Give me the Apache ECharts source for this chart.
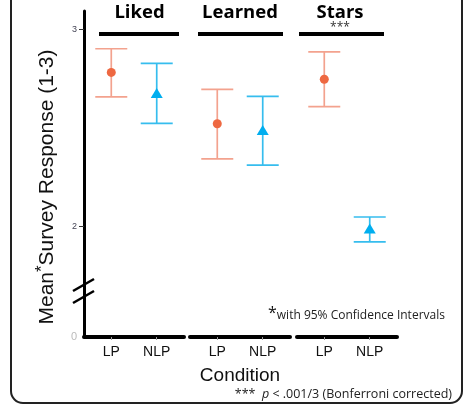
<!DOCTYPE html>
<html><head><meta charset="utf-8">
<script src="https://cdn.jsdelivr.net/npm/echarts@6/dist/echarts.min.js"></script>
<style>html,body{margin:0;padding:0;background:#fff}#c{width:467px;height:406px}</style>
</head><body><div id="c"></div>
<script>
// ---- data ----
const facets = ['Liked', 'Learned', 'Stars'];
const conditions = ['LP', 'NLP'];
const meanLP  = [2.781, 2.520, 2.746];
const lowLP   = [2.657, 2.341, 2.607];
const highLP  = [2.901, 2.695, 2.885];
const meanNLP = [2.676, 2.488, 1.988];
const lowNLP  = [2.522, 2.310, 1.920];
const highNLP = [2.827, 2.659, 2.046];
const yTicks = [2, 3];
const yBreakLabel = '0';
const significance = ['', '', '***'];
const yMin = 1.436, yMax = 3.093;

// ---- layout / style ----
const gridLefts = [84, 190, 297];
const headerLines = [[99, 179], [198, 283], [299, 384]];
const headerCenters = [139.5, 240, 340];
const LP_MARK = '#EE6841', LP_BAR = '#F3A28E';
const NLP_MARK = '#00AEEF', NLP_BAR = '#36BDEE';
const FONT = 'Liberation Sans, Arial, sans-serif';

function errorBar(color) {
  return function (params, api) {
    const x = api.value(0);
    const lo = api.coord([x, api.value(1)]);
    const hi = api.coord([x, api.value(2)]);
    const hw = 16;
    const st = { stroke: color, lineWidth: 1.7 };
    return { type: 'group', children: [
      { type: 'line', shape: { x1: lo[0], y1: lo[1], x2: hi[0], y2: hi[1] }, style: st },
      { type: 'line', shape: { x1: lo[0] - hw, y1: lo[1], x2: lo[0] + hw, y2: lo[1] }, style: st },
      { type: 'line', shape: { x1: hi[0] - hw, y1: hi[1], x2: hi[0] + hw, y2: hi[1] }, style: st }
    ]};
  };
}

const grids = [], xAxes = [], yAxes = [], series = [];
facets.forEach((f, i) => {
  grids.push({ left: gridLefts[i], width: 100, top: 11, height: 326 });
  xAxes.push({
    type: 'value', gridIndex: i, min: -0.6, max: 1.6,
    splitLine: { show: false },
    axisLine: { show: true, onZero: false, lineStyle: { color: '#000', width: 4, cap: 'round' } },
    axisTick: { show: true, customValues: [0, 1], length: 3, lineStyle: { color: '#999', width: 1 } },
    axisLabel: { customValues: [0, 1], formatter: v => conditions[Math.round(v)], color: '#111', fontSize: 14, fontFamily: FONT, margin: 8 },
    name: i === 1 ? 'Condition' : '', nameLocation: 'middle', nameGap: 29,
    nameTextStyle: { fontSize: 19, color: '#111', fontFamily: FONT }
  });
  yAxes.push({
    type: 'value', gridIndex: i, min: yMin, max: yMax, show: i === 0,
    splitLine: { show: false },
    axisLine: { show: i === 0, onZero: false, lineStyle: { color: '#000', width: 3 } },
    axisTick: { show: true, customValues: yTicks, length: 5, lineStyle: { color: '#333', width: 1 } },
    axisLabel: {
      customValues: [yMin].concat(yTicks),
      formatter: v => (Math.abs(v - yMin) < 1e-6 ? '{z|' + yBreakLabel + '}' : String(v)),
      color: '#445', fontSize: 9, fontFamily: FONT, margin: 7,
      rich: { z: { color: '#bbb', fontSize: 11, fontFamily: FONT } }
    }
  });
  series.push({ type: 'custom', xAxisIndex: i, yAxisIndex: i, renderItem: errorBar(LP_BAR),
    data: [[0, lowLP[i], highLP[i]]], silent: true, z: 2 });
  series.push({ type: 'custom', xAxisIndex: i, yAxisIndex: i, renderItem: errorBar(NLP_BAR),
    data: [[1, lowNLP[i], highNLP[i]]], silent: true, z: 2 });
  series.push({ type: 'scatter', xAxisIndex: i, yAxisIndex: i, symbol: 'circle', symbolSize: 9,
    itemStyle: { color: LP_MARK, opacity: 1 }, data: [[0, meanLP[i]]], z: 3 });
  series.push({ type: 'scatter', xAxisIndex: i, yAxisIndex: i, symbol: 'triangle', symbolSize: [12, 10],
    itemStyle: { color: NLP_MARK, opacity: 1 }, data: [[1, meanNLP[i]]], z: 3 });
});

const graphics = [
  { type: 'rect', shape: { x: 11, y: -20, width: 451, height: 423, r: 12 },
    style: { fill: 'none', stroke: '#222', lineWidth: 2 }, z: 0 },
  // axis break marks
  { type: 'line', shape: { x1: 73, y1: 291, x2: 94, y2: 279 }, style: { stroke: '#000', lineWidth: 2.5 }, z: 10 },
  { type: 'line', shape: { x1: 73, y1: 303, x2: 94, y2: 291 }, style: { stroke: '#000', lineWidth: 2.5 }, z: 10 },
  // y axis title
  { type: 'text', x: 47, y: 187, rotation: Math.PI / 2,
    style: { text: '{a|Mean}{s|*}{a|Survey Response (1-3)}', align: 'center', verticalAlign: 'middle',
      rich: { a: { fontSize: 21, fill: '#111', fontFamily: FONT, lineHeight: 24 },
              s: { fontSize: 17, fill: '#111', fontFamily: FONT, lineHeight: 24, padding: [0, 0, 9, 0] } } } },
  { type: 'text', x: 268, y: 316,
    style: { text: '{s|*}{t|with 95% Confidence Intervals}', align: 'left', verticalAlign: 'middle',
      rich: { s: { fontSize: 16, fill: '#111', fontFamily: 'Open Sans', padding: [0, 0, 6, 0] },
              t: { fontSize: 12, fill: '#222', fontFamily: 'Open Sans' } } } },
  { type: 'text', x: 452, y: 394,
    style: { text: '{t|***  }{i|p}{t| < .001/3 (Bonferroni corrected)}', align: 'right', verticalAlign: 'middle',
      rich: { t: { fontSize: 12.5, fill: '#222', fontFamily: 'Open Sans' },
              i: { fontSize: 12.5, fill: '#222', fontFamily: 'Open Sans', fontStyle: 'italic' } } } }
];
facets.forEach((f, i) => {
  graphics.push({ type: 'line', shape: { x1: headerLines[i][0], y1: 34, x2: headerLines[i][1], y2: 34 },
    style: { stroke: '#000', lineWidth: 4 } });
  graphics.push({ type: 'text', x: headerCenters[i], y: 13,
    style: { text: f, align: 'center', verticalAlign: 'middle', fontSize: 18.5, fontWeight: 'bold',
      fontFamily: 'Open Sans', fill: '#000' } });
  if (significance[i]) {
    graphics.push({ type: 'text', x: headerCenters[i], y: 28,
      style: { text: significance[i], align: 'center', verticalAlign: 'middle', fontSize: 12,
        fontFamily: 'Open Sans', fill: '#333' } });
  }
});

const chart = echarts.init(document.getElementById('c'), null, { renderer: 'canvas' });
chart.setOption({
  animation: false,
  backgroundColor: '#fff',
  grid: grids, xAxis: xAxes, yAxis: yAxes, series: series,
  graphic: graphics
});
</script></body></html>
